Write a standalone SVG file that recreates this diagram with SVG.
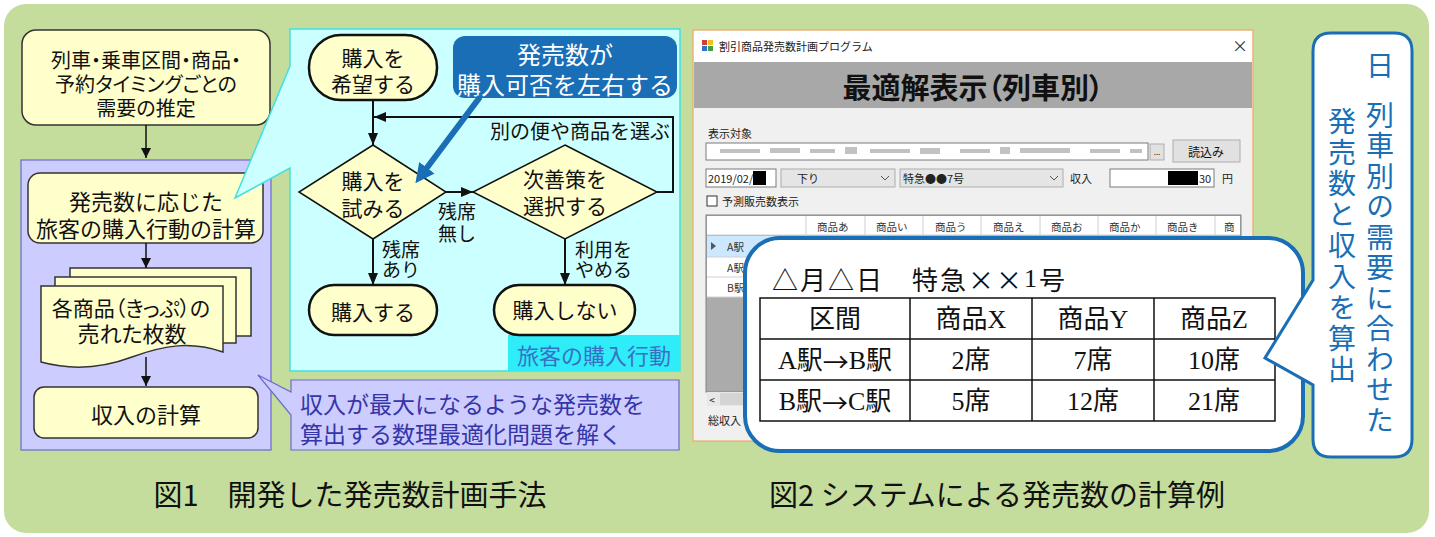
<svg xmlns="http://www.w3.org/2000/svg" width="1435" height="537" viewBox="0 0 1435 537">
<defs>
<style>
text{font-family:"Noto Sans CJK JP","Noto Sans",sans-serif;fill:#111;}
.c{text-anchor:middle;dominant-baseline:central;}
.l{dominant-baseline:central;}
.p{font-feature-settings:"palt";}
.ybox{fill:#ffffcc;stroke:#333;stroke-width:1.5;}
.term{fill:#ffffcc;stroke:#111;stroke-width:2.5;}
.dia{fill:#ffffcc;stroke:#111;stroke-width:1.5;}
.ar{stroke:#111;stroke-width:1.5;fill:none;marker-end:url(#ah);}
.ar2{stroke:#111;stroke-width:2;fill:none;marker-end:url(#ah2);}
.ui{font-size:11px;fill:#222;dominant-baseline:central;}
.hd{font-size:10.5px;fill:#333;dominant-baseline:central;}
.ser{font-family:"Liberation Serif","Noto Sans CJK JP",serif;}
.jp{font-family:"Noto Sans CJK JP",sans-serif;}
.btn{fill:#e1e1e1;stroke:#adadad;stroke-width:1;}
.fld{fill:#fff;stroke:#7a7a7a;stroke-width:1;}
.cell{fill:none;stroke:#111;stroke-width:1.5;}
.vt{writing-mode:vertical-rl;font-size:28px;fill:#1a6eb5;}
</style>
<marker id="ah" viewBox="0 0 10 10" refX="10" refY="5" markerWidth="10" markerHeight="10" markerUnits="userSpaceOnUse" orient="auto"><path d="M0,0 L10,5 L0,10 z" fill="#111"/></marker>
<marker id="ah2" viewBox="0 0 12 10" refX="12" refY="5" markerWidth="12" markerHeight="10" markerUnits="userSpaceOnUse" orient="auto"><path d="M0,0 L12,5 L0,10 z" fill="#111"/></marker>
<marker id="ahb" viewBox="0 0 10 10" refX="6" refY="5" markerWidth="3.2" markerHeight="3.2" orient="auto"><path d="M0,0 L10,5 L0,10 z" fill="#1a6eb5"/></marker>
</defs>

<rect x="4" y="4" width="1425" height="529" rx="22" fill="#c4dd9c"/>

<!-- left column -->
<g id="n-demand">
<rect class="ybox" x="22" y="30" width="248" height="95" rx="14"/>
<text class="c p" x="146" y="59" font-size="20">列車・乗車区間・商品・<tspan x="146" dy="24">予約タイミングごとの</tspan><tspan x="146" dy="24">需要の推定</tspan></text>
</g>
<g id="n-optpanel">
<rect x="21" y="160" width="250" height="290" fill="#ccccff" stroke="#6a6acb" stroke-width="1.2"/>
</g>
<g id="n-behavior">
<rect class="ybox" x="28" y="173" width="235" height="70" rx="12"/>
<text class="c" x="146" y="200" font-size="22">発売数に応じた<tspan x="146" dy="27">旅客の購入行動の計算</tspan></text>
</g>
<g id="n-sold">
<rect class="ybox" x="70" y="268" width="181" height="68"/>
<rect class="ybox" x="55" y="277" width="181" height="66"/>
<path class="ybox" d="M41,286 H223 V352 C190,341 165,345 132,357 C100,369 70,370 41,362 Z"/>
<text class="c p" x="131" y="307" font-size="21">各商品（きっぷ）の<tspan x="132" dy="25" font-size="22">売れた枚数</tspan></text>
</g>
<g id="n-revenue">
<rect class="ybox" x="34" y="387" width="224" height="51" rx="10"/>
<text class="c" x="146" y="413" font-size="22">収入の計算</text>
</g>

<!-- cyan flowchart panel -->
<g id="n-cyanpanel">
<path d="M290,29 H680 V371 H290 V168 L235,198 L290,66 Z" fill="#ccffff" stroke="#40e0e0" stroke-width="1.5"/>
<rect x="508" y="335" width="172" height="36" fill="#2eecf8"/>
<text class="c" x="594" y="354" font-size="22" style="fill:#3a6fc4">旅客の購入行動</text>
</g>
<g id="n-wish">
<rect class="term" x="309" y="35" width="128" height="65" rx="32"/>
<text class="c" x="373" y="57" font-size="21">購入を<tspan x="373" dy="26">希望する</tspan></text>
</g>
<g id="n-try">
<path class="dia" d="M373,145 L446,192 L373,239 L299,192 Z"/>
<text class="c" x="373" y="180" font-size="21">購入を<tspan x="373" dy="27">試みる</tspan></text>
</g>
<g id="n-next">
<path class="dia" d="M565,145 L657,192 L565,239 L473,192 Z"/>
<text class="c" x="565" y="178" font-size="21">次善策を<tspan x="565" dy="27">選択する</tspan></text>
</g>
<g id="n-buy">
<rect class="term" x="309" y="285" width="128" height="50" rx="25"/>
<text class="c" x="373" y="311" font-size="21">購入する</text>
</g>
<g id="n-nobuy">
<rect class="term" x="494" y="285" width="141" height="50" rx="25"/>
<text class="c" x="565" y="309" font-size="21">購入しない</text>
</g>
<g id="n-note">
<rect x="453" y="36" width="224" height="62" rx="12" fill="#1a6eb5"/>
<text class="c" x="565" y="53" font-size="24" style="fill:#fff">発売数が<tspan x="565" dy="30">購入可否を左右する</tspan></text>
</g>

<!-- lavender callout -->
<g id="n-optnote">
<path d="M291,380 H679 V450 H291 V415 L258,375 L291,392 Z" fill="#ccccff" stroke="#6a6acb" stroke-width="1.2"/>
<text class="l" x="300" y="403" font-size="23" style="fill:#3535a8">収入が最大になるような発売数を<tspan x="300" dy="30">算出する数理最適化問題を解く</tspan></text>
</g>

<!-- connectors -->
<g id="connectors">
<path class="ar" d="M146,125 V158"/>
<path class="ar" d="M146,243 V268"/>
<path class="ar" d="M146,357 V386"/>
<path class="ar2" d="M373,100 V145"/>
<path class="ar2" d="M446,192 H473"/>
<path class="ar2" d="M657,192 H673 V117 H374"/>
<path class="ar2" d="M373,239 V285"/>
<path class="ar2" d="M565,239 V285"/>
<path d="M480,97 L420,177" stroke="#1a6eb5" stroke-width="6" fill="none" marker-end="url(#ahb)"/>
<text class="l" x="670" y="130" font-size="20" text-anchor="end">別の便や商品を選ぶ</text>
<text class="l" x="438" y="210" font-size="19">残席<tspan x="438" dy="22">無し</tspan></text>
<text class="l" x="382" y="248" font-size="19">残席<tspan x="382" dy="20">あり</tspan></text>
<text class="l" x="575" y="248" font-size="19">利用を<tspan x="575" dy="20">やめる</tspan></text>
</g>

<!-- screenshot -->
<g id="n-window">
<rect x="693" y="30" width="560" height="411" fill="#f0f0f0" stroke="#eeaa66" stroke-width="1.2"/>
<rect x="694" y="31" width="558" height="31" fill="#fff"/>
<rect x="702" y="40" width="5" height="5" fill="#d04030"/>
<rect x="708" y="40" width="5" height="5" fill="#f0c020"/>
<rect x="702" y="46" width="5" height="5" fill="#3070d0"/>
<rect x="708" y="46" width="5" height="5" fill="#40a040"/>
<text class="ui" x="719" y="46">割引商品発売数計画プログラム</text>
<text class="c" x="1240" y="45" font-size="16" style="fill:#333">×</text>
<rect x="694" y="62" width="558" height="46" fill="#a8a8a8"/>
<text class="c p" x="973" y="86" font-size="29" font-weight="bold">最適解表示（列車別）</text>
<text class="ui" x="708" y="133">表示対象</text>
<rect class="fld" x="706" y="143" width="442" height="17" stroke="#aaa"/>
<g fill="#9a9a9a" opacity="0.6">
<rect x="720" y="149" width="40" height="4"/><rect x="770" y="148" width="30" height="5"/><rect x="810" y="149" width="25" height="4"/>
<rect x="845" y="147" width="12" height="7"/><rect x="870" y="149" width="40" height="4"/><rect x="920" y="148" width="20" height="6"/>
<rect x="960" y="149" width="30" height="4"/><rect x="1000" y="147" width="10" height="7"/><rect x="1020" y="148" width="50" height="5"/>
<rect x="1090" y="149" width="30" height="4"/><rect x="1130" y="149" width="12" height="4"/>
</g>
<rect class="btn" x="1150" y="144" width="14" height="16"/>
<text class="c" x="1157" y="151" font-size="8">...</text>
<rect class="btn" x="1173" y="140" width="67" height="22"/>
<text class="c" x="1206" y="151" font-size="12">読込み</text>
<rect class="fld" x="706" y="169" width="70" height="18"/>
<text class="ui" x="708" y="178">2019/02/</text>
<rect x="753" y="171" width="13" height="14" fill="#000"/>
<rect x="781" y="169" width="114" height="18" fill="#e5e5e5" stroke="#acacac"/>
<text class="ui" x="797" y="178">下り</text>
<path d="M881,176 L885,180 L889,176" fill="none" stroke="#555"/>
<rect x="900" y="169" width="163" height="18" fill="#e5e5e5" stroke="#acacac"/>
<text class="ui" x="903" y="178">特急●●7号</text>
<path d="M1050,176 L1054,180 L1058,176" fill="none" stroke="#555"/>
<text class="ui" x="1070" y="178" font-size="13">収入</text>
<rect class="fld" x="1110" y="169" width="104" height="18"/>
<rect x="1168" y="171" width="30" height="14" fill="#000"/>
<text class="ui" x="1199" y="178">30</text>
<text class="ui" x="1222" y="178" font-size="13">円</text>
<rect x="707" y="196" width="10" height="10" fill="#fff" stroke="#333"/>
<text class="ui" x="722" y="201" font-size="13">予測販売数表示</text>
<rect x="706" y="215" width="535" height="177" fill="#ababab" stroke="#828282"/>
<rect x="707" y="216" width="533" height="19" fill="#fff"/>
<rect x="707" y="236" width="533" height="61" fill="#fff"/>
<rect x="707" y="236" width="99" height="21" fill="#cce8ff"/>
<path d="M707,235 H1240 M707,257 H1240 M707,277 H1240 M707,297 H1240 M806,216 V297 M865,216 V235 M923,216 V235 M981,216 V235 M1040,216 V235 M1098,216 V235 M1156,216 V235 M1215,216 V235" stroke="#d0d0d0" stroke-width="1" fill="none"/>
<text class="hd" x="817" y="226">商品あ</text>
<text class="hd" x="876" y="226">商品い</text>
<text class="hd" x="935" y="226">商品う</text>
<text class="hd" x="993" y="226">商品え</text>
<text class="hd" x="1051" y="226">商品お</text>
<text class="hd" x="1109" y="226">商品か</text>
<text class="hd" x="1167" y="226">商品き</text>
<text class="hd" x="1224" y="226">商</text>
<path d="M711,242 L716,246 L711,250 Z" fill="#555"/>
<text class="hd" x="727" y="246">A駅</text>
<text class="hd" x="727" y="267">A駅</text>
<text class="hd" x="727" y="287">B駅</text>
<rect x="707" y="392" width="533" height="14" fill="#e8e8e8"/>
<rect x="720" y="393" width="60" height="12" fill="#d4d4d4"/>
<text class="c" x="712" y="399" font-size="10">&lt;</text>
<text class="ui" x="708" y="420" font-size="13">総収入</text>
</g>

<g id="n-table">
<rect x="745" y="238" width="558" height="213" rx="35" fill="#fff" stroke="#1a6eb5" stroke-width="4"/>
<text class="l" x="772" y="278" font-size="26" letter-spacing="2">△月△日　特急××<tspan class="ser">1</tspan>号</text>
<rect class="cell" x="760" y="298" width="515" height="123"/>
<path class="cell" d="M760,339 H1275 M760,380 H1275 M910,298 V421 M1032,298 V421 M1154,298 V421"/>
<g font-size="26">
<text class="c ser" x="835" y="319">区間</text>
<text class="c ser" x="971" y="319">商品X</text>
<text class="c ser" x="1093" y="319">商品Y</text>
<text class="c ser" x="1214" y="319">商品Z</text>
<text class="c ser" x="835" y="360">A駅<tspan class="jp">→</tspan>B駅</text>
<text class="c ser" x="971" y="360">2席</text>
<text class="c ser" x="1093" y="360">7席</text>
<text class="c ser" x="1214" y="360">10席</text>
<text class="c ser" x="835" y="401">B駅<tspan class="jp">→</tspan>C駅</text>
<text class="c ser" x="971" y="401">5席</text>
<text class="c ser" x="1093" y="401">12席</text>
<text class="c ser" x="1214" y="401">21席</text>
</g>
</g>

<g id="n-vnote">
<path d="M1331,33 H1394 Q1412,33 1412,51 V439 Q1412,457 1394,457 H1331 Q1313,457 1313,439 V385 L1265,358 L1313,280 V51 Q1313,33 1331,33 Z" fill="#fff" stroke="#1a6eb5" stroke-width="3"/>
<text class="vt" x="1380" y="51">日</text>
<text class="vt" x="1380" y="101" letter-spacing="2.5">列車別の需要に合わせた</text>
<text class="vt" x="1342" y="107" letter-spacing="3">発売数と収入を算出</text>
</g>

<g id="captions">
<text class="c" x="350" y="493" font-size="29">図1　開発した発売数計画手法</text>
<text class="c" x="997" y="493" font-size="29">図2 システムによる発売数の計算例</text>
</g>
</svg>
